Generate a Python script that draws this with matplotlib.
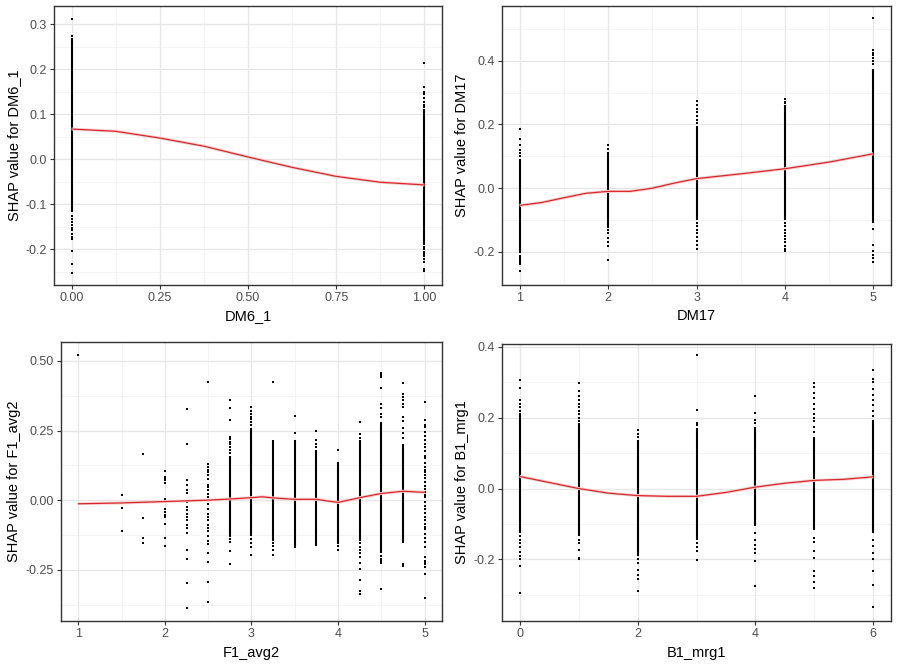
import numpy as np
import matplotlib
matplotlib.use("Agg")
import matplotlib.pyplot as plt

plt.rcParams['font.family'] = ['Liberation Sans', 'DejaVu Sans']

nan = float('nan')

# ---------------- Panel 1: DM6_1 ----------------
dm6_x = [0, 1]
dm6_lo = [-0.118, -0.19]
dm6_hi = [0.268, 0.112]
dm6_pts = {
    0: [0.312, 0.274, 0.262, 0.255, -0.125, -0.132, -0.14, -0.146, -0.152, -0.158,
        -0.165, -0.172, -0.178, -0.203, -0.232, -0.252],
    1: [0.213, 0.161, 0.150, 0.144, 0.136, 0.128, 0.121, 0.117, -0.195, -0.2, -0.205,
        -0.21, -0.215, -0.222, -0.228, -0.243, -0.247],
}
dm6_sx = [0, 0.125, 0.25, 0.375, 0.5, 0.625, 0.75, 0.875, 1.0]
dm6_sy = [0.067, 0.062, 0.047, 0.029, 0.005, -0.018, -0.038, -0.051, -0.057]
dm6_xticks = [0, 0.25, 0.5, 0.75, 1.0]
dm6_xlabels = ["0.00", "0.25", "0.50", "0.75", "1.00"]
dm6_yticks = [-0.2, -0.1, 0.0, 0.1, 0.2, 0.3]
dm6_ylabels = ["-0.2", "-0.1", "0.0", "0.1", "0.2", "0.3"]

# ---------------- Panel 2: DM17 ----------------
dm17_x = [1, 2, 3, 4, 5]
dm17_lo = [-0.205, -0.125, -0.1, -0.1, -0.11]
dm17_hi = [0.092, 0.115, 0.195, 0.26, 0.375]
dm17_pts = {
    1: [0.186, 0.153, 0.137, 0.121, 0.11, 0.10, -0.212, -0.218, -0.225, -0.232, -0.237, -0.26],
    2: [0.134, 0.122, -0.132, -0.14, -0.158, -0.168, -0.182, -0.227],
    3: [0.273, 0.262, 0.25, 0.24, 0.228, 0.215, 0.205, -0.11, -0.12, -0.13, -0.14, -0.152,
        -0.165, -0.178, -0.19],
    4: [0.28, 0.272, 0.266, -0.11, -0.12, -0.13, -0.14, -0.15, -0.16, -0.17, -0.18, -0.19, -0.197],
    5: [0.534, 0.433, 0.425, 0.419, 0.41, 0.4, 0.39, -0.129, -0.179, -0.197, -0.21, -0.218, -0.232],
}
dm17_sx = [1, 1.25, 1.5, 1.75, 2, 2.25, 2.5, 2.75, 3, 3.5, 4, 4.5, 5]
dm17_sy = [-0.054, -0.045, -0.03, -0.016, -0.01, -0.01, 0.0, 0.016, 0.03, 0.045, 0.061, 0.082, 0.108]
dm17_xticks = [1, 2, 3, 4, 5]
dm17_xlabels = ["1", "2", "3", "4", "5"]
dm17_yticks = [-0.2, 0.0, 0.2, 0.4]
dm17_ylabels = ["-0.2", "0.0", "0.2", "0.4"]

# ---------------- Panel 3: F1_avg2 ----------------
f1_x = [1, 1.5, 1.75, 2, 2.25, 2.5, 2.75, 3, 3.25, 3.5, 3.75, 4, 4.25, 4.5, 4.75, 5]
f1_lo = [nan, nan, nan, nan, nan, nan, -0.133, -0.13, -0.145, -0.163, -0.163, -0.157,
         -0.145, -0.19, -0.155, nan]
f1_hi = [nan, nan, nan, nan, nan, nan, 0.16, 0.26, 0.215, 0.215, 0.179, 0.137,
         0.215, 0.28, 0.2, nan]
f1_pts = {
    1: [0.52],
    1.5: [0.017, -0.027, -0.111],
    1.75: [0.167, -0.063, -0.135, -0.155],
    2: [0.103, 0.083, 0.075, 0.071, 0.061, 0.005, -0.031, -0.043, -0.052, -0.061, -0.087,
        -0.135, -0.165],
    2.25: [0.329, 0.203, 0.071, 0.056, 0.035, 0.025, -0.007, -0.025, -0.037, -0.049, -0.06,
           -0.073, -0.091, -0.1, -0.119, -0.178, -0.211, -0.297, -0.388],
    2.5: [0.424, 0.131, 0.119, 0.11, 0.101, 0.089, 0.075, 0.053, 0.047, 0.035, 0.023, 0.011,
          0.0, -0.013, -0.031, -0.049, -0.06, -0.073, -0.091, -0.1, -0.109, -0.127, -0.145,
          -0.159, -0.188, -0.223, -0.294, -0.367],
    2.75: [0.361, 0.332, 0.287, 0.227, 0.22, 0.21, 0.2, 0.19, 0.18, 0.17, -0.14, -0.15,
           -0.181, -0.229],
    3: [0.335, 0.32, 0.31, 0.3, 0.29, 0.28, 0.27, -0.14, -0.155, -0.169, -0.196],
    3.25: [0.424, -0.155, -0.165, -0.178, -0.196],
    3.5: [0.301, 0.24, -0.17],
    3.75: [0.248, 0.215, 0.2, 0.19],
    4: [0.181, -0.165, -0.178],
    4.25: [0.281, 0.239, 0.225, -0.155, -0.169, -0.18, -0.19, -0.205, -0.227, -0.247,
           -0.285, -0.325, -0.337],
    4.5: [0.455, 0.449, 0.442, 0.404, 0.347, 0.33, 0.31, 0.3, -0.2, -0.21, -0.22, -0.225, -0.319],
    4.75: [0.419, 0.383, 0.37, 0.36, 0.345, 0.335, 0.30, 0.285, 0.26, 0.24, 0.225, -0.229, -0.235],
    5: [0.353, 0.287, 0.27, 0.263, 0.245, 0.23, 0.215, 0.2, 0.19, 0.175, 0.16, 0.15, 0.135,
        0.12, 0.11, 0.1, 0.09, 0.08, 0.065, 0.05, 0.04, 0.03, 0.02, 0.01, -0.005, -0.02,
        -0.03, -0.045, -0.06, -0.07, -0.085, -0.095, -0.105, -0.12, -0.135, -0.15, -0.169,
        -0.205, -0.217, -0.221, -0.229, -0.24, -0.265, -0.352],
}
f1_sx = [1, 1.5, 2, 2.5, 2.75, 3, 3.125, 3.25, 3.5, 3.75, 3.9, 4, 4.25, 4.5, 4.75, 5]
f1_sy = [-0.013, -0.01, -0.005, 0.0, 0.004, 0.009, 0.012, 0.008, 0.003, 0.003, -0.004,
         -0.008, 0.009, 0.024, 0.032, 0.028]
f1_xticks = [1, 2, 3, 4, 5]
f1_xlabels = ["1", "2", "3", "4", "5"]
f1_yticks = [-0.25, 0.0, 0.25, 0.5]
f1_ylabels = ["-0.25", "0.00", "0.25", "0.50"]

# ---------------- Panel 4: B1_mrg1 ----------------
b1_x = [0, 1, 2, 3, 4, 5, 6]
b1_lo = [-0.126, -0.135, -0.191, -0.145, -0.107, -0.116, -0.126]
b1_hi = [0.212, 0.184, 0.137, 0.17, 0.175, 0.146, 0.194]
b1_pts = {
    0: [0.306, 0.283, 0.25, 0.24, 0.23, 0.22, -0.135, -0.145, -0.155, -0.165, -0.18, -0.191,
        -0.2, -0.22, -0.295],
    1: [0.297, 0.274, 0.26, 0.25, 0.24, 0.23, 0.22, 0.21, 0.2, 0.19, -0.145, -0.154, -0.174,
        -0.196, -0.2],
    2: [0.165, 0.155, 0.145, -0.2, -0.21, -0.229, -0.243, -0.255, -0.288],
    3: [0.377, 0.222, 0.184, 0.178, -0.155, -0.165, -0.175, -0.203],
    4: [0.261, 0.214, 0.194, 0.185, -0.126, -0.145, -0.16, -0.17, -0.182, -0.206, -0.276],
    5: [0.297, 0.288, 0.27, 0.255, 0.24, 0.225, 0.21, 0.2, 0.19, 0.175, 0.16, -0.14, -0.152,
        -0.175, -0.196, -0.232, -0.248, -0.265, -0.281],
    6: [0.336, 0.308, 0.3, 0.28, 0.265, 0.25, 0.235, 0.22, 0.205, -0.145, -0.163, -0.182,
        -0.2, -0.234, -0.273, -0.335],
}
b1_sx = [0, 0.5, 1, 1.5, 2, 2.5, 3, 3.5, 4, 4.5, 5, 5.5, 6]
b1_sy = [0.034, 0.017, 0.0, -0.013, -0.02, -0.022, -0.022, -0.011, 0.004, 0.015, 0.023, 0.026, 0.033]
b1_xticks = [0, 2, 4, 6]
b1_xlabels = ["0", "2", "4", "6"]
b1_yticks = [-0.2, 0.0, 0.2, 0.4]
b1_ylabels = ["-0.2", "0.0", "0.2", "0.4"]

W, H = 897, 671
fig = plt.figure(figsize=(W / 100, H / 100), dpi=100)


def rect(l, r, t, b):
    return [l / W, 1 - b / H, (r - l) / W, (b - t) / H]


def panel(box, name, xs, lo, hi, pts, sx, sy, xticks, xlabels, yticks, ylabels,
          xlim, ylim, xminor, yminor):
    ax = fig.add_axes(box)
    ax.set_xlim(*xlim)
    ax.set_ylim(*ylim)
    # grid
    for v in xminor:
        ax.axvline(v, color='#F2F2F2', lw=0.6, zorder=0)
    for v in yminor:
        ax.axhline(v, color='#F2F2F2', lw=0.6, zorder=0)
    for v in xticks:
        ax.axvline(v, color='#E6E6E6', lw=0.9, zorder=0)
    for v in yticks:
        ax.axhline(v, color='#E6E6E6', lw=0.9, zorder=0)
    # dense bands
    for x, a, b in zip(xs, lo, hi):
        if not (np.isnan(a) or np.isnan(b)):
            ax.vlines(x, a, b, color='black', lw=1.5, zorder=2)
    # individual points
    for x, ys in pts.items():
        ax.scatter([x] * len(ys), ys, s=1.6, marker='s', color='black', lw=0, zorder=3)
    # smooth line with light band
    ax.plot(sx, sy, color='#F9D0D0', lw=2.2, zorder=4, solid_capstyle='butt')
    ax.plot(sx, sy, color='#D42A2E', lw=0.9, zorder=5)
    ax.set_xticks(xticks)
    ax.set_xticklabels(xlabels)
    ax.set_yticks(yticks)
    ax.set_yticklabels(ylabels)
    ax.tick_params(direction='out', length=3, width=0.8, color='#333333',
                   labelcolor='#4D4D4D', labelsize=9, pad=2)
    for s in ax.spines.values():
        s.set_color('#333333')
        s.set_linewidth(1.0)
    ax.set_xlabel(name, fontsize=10.5, color='black', labelpad=4)
    ax.set_ylabel('SHAP value for ' + name, fontsize=10.5, color='black', labelpad=3.5)
    return ax


panel(rect(54, 442, 6, 285), 'DM6_1', dm6_x, dm6_lo, dm6_hi, dm6_pts, dm6_sx, dm6_sy,
      dm6_xticks, dm6_xlabels, dm6_yticks, dm6_ylabels,
      (-0.05, 1.05), (-0.279, 0.34),
      [0.125, 0.375, 0.625, 0.875], [-0.25, -0.15, -0.05, 0.05, 0.15, 0.25])

panel(rect(502, 891, 6, 285), 'DM17', dm17_x, dm17_lo, dm17_hi, dm17_pts, dm17_sx, dm17_sy,
      dm17_xticks, dm17_xlabels, dm17_yticks, dm17_ylabels,
      (0.8, 5.2), (-0.304, 0.572),
      [1.5, 2.5, 3.5, 4.5], [-0.3, -0.1, 0.1, 0.3, 0.5])

panel(rect(61, 442, 342, 621), 'F1_avg2', f1_x, f1_lo, f1_hi, f1_pts, f1_sx, f1_sy,
      f1_xticks, f1_xlabels, f1_yticks, f1_ylabels,
      (0.8, 5.2), (-0.434, 0.568),
      [1.5, 2.5, 3.5, 4.5], [-0.375, -0.125, 0.125, 0.375])

panel(rect(502, 891, 344, 621), 'B1_mrg1', b1_x, b1_lo, b1_hi, b1_pts, b1_sx, b1_sy,
      b1_xticks, b1_xlabels, b1_yticks, b1_ylabels,
      (-0.3, 6.3), (-0.374, 0.408),
      [1, 3, 5], [-0.3, -0.1, 0.1, 0.3])

fig.savefig('out.png', dpi=100, facecolor='white')
